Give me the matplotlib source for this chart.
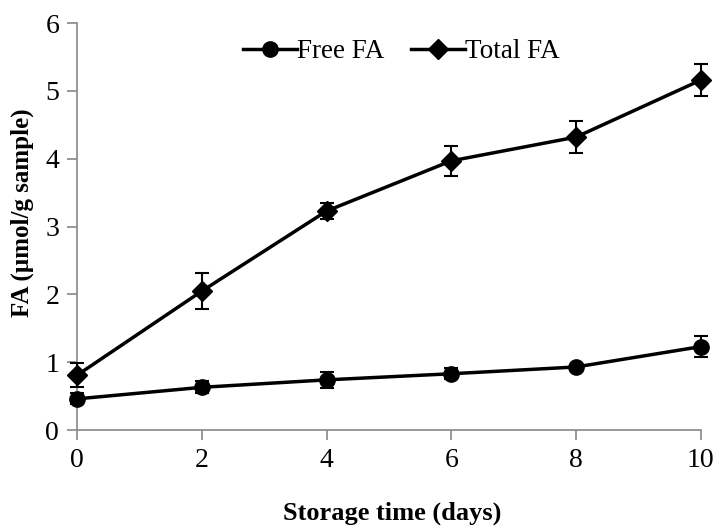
import matplotlib
matplotlib.use('Agg')
import matplotlib.pyplot as plt

plt.rcParams['font.family'] = 'Liberation Serif'

days = [0, 2, 4, 6, 8, 10]
free_fa = [0.46, 0.63, 0.74, 0.83, 0.93, 1.23]
free_err = [0.08, 0.09, 0.12, 0.08, 0.03, 0.15]
total_fa = [0.81, 2.05, 3.23, 3.97, 4.32, 5.16]
total_err = [0.18, 0.27, 0.12, 0.22, 0.24, 0.24]

fig = plt.figure(figsize=(7.15, 5.27), dpi=100)
ax = fig.add_axes([0.108, 0.184, 0.872, 0.772])

# error bars first, then the lines with markers on top
ax.errorbar(days, free_fa, yerr=free_err, fmt='none', ecolor='black',
            elinewidth=1.5, capsize=5, capthick=1.5, clip_on=False, zorder=3)
ax.errorbar(days, total_fa, yerr=total_err, fmt='none', ecolor='black',
            elinewidth=1.5, capsize=5, capthick=1.5, clip_on=False, zorder=3)
ax.plot(days, free_fa, color='black', marker='o', markersize=11, linewidth=2.5,
        label='Free FA', clip_on=False, zorder=4)
ax.plot(days, total_fa, color='black', marker='D', markersize=10, linewidth=2.5,
        label='Total FA', clip_on=False, zorder=4)

ax.set_xlim(0, 10)
ax.set_ylim(0, 6)
ax.set_xticks(days)
ax.set_yticks(range(0, 7))

for s in ['top', 'right']:
    ax.spines[s].set_visible(False)
for s in ['left', 'bottom']:
    ax.spines[s].set_color('#888888')
    ax.spines[s].set_linewidth(1.2)
ax.tick_params(axis='both', colors='#888888', labelcolor='black', labelsize=20,
               length=7, width=1.2)
ax.tick_params(axis='x', pad=6)
ax.tick_params(axis='y', pad=6)

ax.set_xlabel('Storage time (days)', fontsize=19, fontweight='bold')
ax.set_ylabel('FA (µmol/g sample)', fontsize=18, fontweight='bold')
ax.xaxis.set_label_coords(0.505, -0.204)
ax.yaxis.set_label_coords(-0.088, 0.533)
ax.xaxis.label.set_va('center')
ax.yaxis.label.set_va('center')

ax.legend(loc='upper center', bbox_to_anchor=(0.52, 1.02), ncol=2, frameon=False,
          fontsize=19.5, handlelength=2.0, handletextpad=0.0, columnspacing=1.0)

fig.savefig('out.png', dpi=100)
